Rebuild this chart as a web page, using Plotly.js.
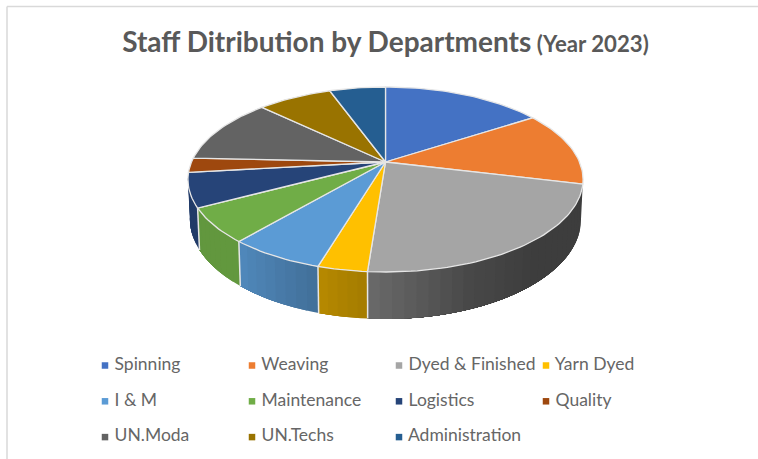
<!DOCTYPE html>
<html>
<head>
<meta charset="utf-8">
<script src="https://cdn.plot.ly/plotly-3.0.1.min.js"></script>
<style>html,body{margin:0;padding:0;background:#fff}#chart{width:758px;height:459px}</style>
</head>
<body>
<div id="chart"></div>
<script>
// Share of staff per department, in percent
const departments = ['Spinning','Weaving','Dyed & Finished','Yarn Dyed','I & M','Maintenance','Logistics','Quality','UN.Moda','UN.Techs','Administration'];
const shares = [15.8,13.0,22.4,3.4,6.6,6.0,6.0,2.5,11.5,7.3,5.5];
const colors = ['#4472C4','#ED7D31','#A5A5A5','#FFC000','#5B9BD5','#70AD47','#264478','#9E480E','#636363','#997300','#255E91'];

// Projection of the tilted disc onto the drawing plane
const cx = 385.5, cy = 162, rx = 194, ry = 89.2, tilt = 0.189, depth = 38.1, shrink = 0.99;
function topPoint(a){
  const w = 1 + tilt*Math.cos(a);
  return [cx + rx*Math.sin(a)/w, cy - ry*Math.cos(a)/w];
}
function bottomPoint(a){
  const w = 1 + tilt*Math.cos(a), p = topPoint(a);
  return [cx + (p[0]-cx)*shrink, p[1] + depth/w];
}
function shade(hex, f){
  const n = parseInt(hex.slice(1),16);
  const c = [n>>16,(n>>8)&255,n&255].map(v=>Math.round(v*f));
  return 'rgb('+c.join(',')+')';
}
// Wall brightness by angle (degrees clockwise from the back of the disc)
const lightAngles = [90,140,160,184,197,220,240,270];
const lightLevels = [0.37,0.37,0.44,0.64,0.72,0.88,0.87,0.87];
function wallLight(a){
  const d = a*180/Math.PI;
  for(let k=1;k<lightAngles.length;k++){
    if(d<=lightAngles[k]){
      const t=(d-lightAngles[k-1])/(lightAngles[k]-lightAngles[k-1]);
      return lightLevels[k-1]+t*(lightLevels[k]-lightLevels[k-1]);
    }
  }
  return lightLevels[lightLevels.length-1];
}

const total = shares.reduce((s,v)=>s+v,0);
const bounds = [0];
shares.forEach(v=>bounds.push(bounds[bounds.length-1]+v/total*2*Math.PI));

const traces = [];
const sep = '#e6e6e6';

// Outer wall, only the part that faces the viewer; strips overlap so no seams show
const wallFrom = Math.PI*0.58, wallTo = Math.PI*1.45;
departments.forEach((name,i)=>{
  const a0 = Math.max(bounds[i],wallFrom), a1 = Math.min(bounds[i+1],wallTo);
  if(a1<=a0) return;
  const n = Math.max(2,Math.ceil((a1-a0)/(Math.PI/60)));
  for(let j=0;j<n;j++){
    const s = a0+(a1-a0)*j/n, e = a1;   // each strip runs to the section end, later strips paint over it
    const pts = [];
    const m = Math.max(1,Math.ceil((e-s)/(Math.PI/90)));
    for(let q=0;q<=m;q++) pts.push(topPoint(s+(e-s)*q/m));
    for(let q=m;q>=0;q--) pts.push(bottomPoint(s+(e-s)*q/m));
    pts.push(pts[0]);
    const col = shade(colors[i], wallLight(s+(a1-a0)/n/2));
    traces.push({type:'scatter',mode:'none',x:pts.map(q=>q[0]),y:pts.map(q=>q[1]),fill:'toself',fillcolor:col,
      showlegend:false,hoverinfo:'skip'});
  }
});
// Light seams where two wall sections meet
departments.forEach((name,i)=>{
  if(bounds[i]>wallFrom && bounds[i]<wallTo){
    const t = topPoint(bounds[i]), b = bottomPoint(bounds[i]);
    traces.push({type:'scatter',mode:'lines',x:[t[0],b[0]],y:[t[1],b[1]],line:{color:sep,width:1.5},showlegend:false,hoverinfo:'skip'});
  }
});
// Top face of each slice
departments.forEach((name,i)=>{
  const a0 = bounds[i], a1 = bounds[i+1];
  const n = Math.max(3,Math.ceil((a1-a0)/(Math.PI/120)));
  const xs=[cx], ys=[cy];
  for(let j=0;j<=n;j++){const p=topPoint(a0+(a1-a0)*j/n);xs.push(p[0]);ys.push(p[1]);}
  xs.push(cx);ys.push(cy);
  traces.push({type:'scatter',mode:'lines',x:xs,y:ys,fill:'toself',fillcolor:colors[i],
    line:{color:sep,width:1.3},name:name,text:name+': '+shares[i]+'%',hoverinfo:'text',showlegend:false});
});
// Legend grid: swatch and label per department
const legendCols = 4, legendX = 105, legendDX = 147, legendY = 365.5, legendDY = 35.8;
traces.push({type:'scatter',mode:'markers+text',
  x:departments.map((d,i)=>legendX+(i%legendCols)*legendDX),
  y:departments.map((d,i)=>legendY+Math.floor(i/legendCols)*legendDY),
  text:departments.map(d=>' '+d),textposition:'middle right',
  textfont:{family:'Lato, "Open Sans", sans-serif',size:17.5,color:'#666666'},
  marker:{symbol:'square',size:6.5,color:colors,line:{width:0}},showlegend:false,hoverinfo:'skip',cliponaxis:false});

const layout = {
  width:758,height:459,margin:{l:0,r:0,t:0,b:0},
  paper_bgcolor:'#ffffff',plot_bgcolor:'#ffffff',showlegend:false,
  title:{text:'<b>Staff Ditribution by Departments</b><b style="font-size:22.2px"> (Year 2023)</b>',
    x:385.5/758,xanchor:'center',y:1-42/459,yanchor:'middle',
    font:{family:'Lato, "Open Sans", sans-serif',size:28,color:'#595959'}},
  xaxis:{range:[0,758],visible:false,fixedrange:true},
  yaxis:{range:[459,0],visible:false,fixedrange:true},
  shapes:[
    {type:'line',xref:'x',yref:'y',x0:7,x1:758,y0:6.5,y1:6.5,line:{color:'#d9d9d9',width:1.5}},
    {type:'line',xref:'x',yref:'y',x0:7,x1:7,y0:6.5,y1:459,line:{color:'#d9d9d9',width:1.5}}
  ]
};
Plotly.newPlot('chart',traces,layout,{displayModeBar:false});
</script>
</body>
</html>
